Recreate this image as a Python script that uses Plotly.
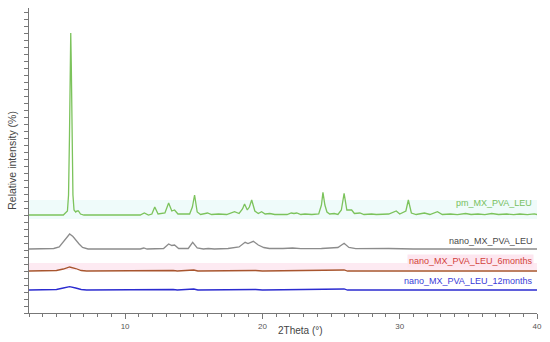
import plotly.graph_objects as go

# 2Theta (deg) / intensity (a.u.) point lists
pm_theta = [3.0, 5.5, 5.8, 5.88, 5.95, 6.0, 6.04, 6.08, 6.13, 6.2, 6.28, 6.4, 6.5, 6.6, 6.75, 7.0,
            11.1, 11.4, 11.7, 11.95, 12.16, 12.4, 12.9, 13.17, 13.4, 13.6, 13.85, 14.7, 14.9, 15.06,
            15.25, 15.5, 16.0, 16.3, 16.8, 17.4, 17.97, 18.3, 18.55, 18.7, 18.9, 19.05, 19.22, 19.45,
            19.7, 19.94, 20.2, 20.54, 20.9, 21.8, 22.1, 22.3, 22.5, 22.8, 23.1, 23.6, 24.1, 24.3,
            24.41, 24.55, 24.7, 24.9, 25.23, 25.5, 25.75, 25.95, 26.15, 26.5, 26.7, 27.1, 27.4,
            27.95, 28.3, 28.8, 29.2, 29.75, 30.0, 30.45, 30.63, 30.85, 31.2, 31.8, 32.2, 32.75,
            33.1, 33.7, 34.2, 34.8, 35.2, 35.7, 36.2, 36.7, 37.2, 37.8, 38.3, 38.75, 39.3, 39.8, 40.0]
pm_int = [0, 0, 4, 20, 80, 150, 182, 150, 80, 20, 5, 3, 4, 4, 1, 0,
          0, 2, 0, 1, 8, 1, 2, 12, 4, 5, 1, 1, 8, 20,
          3, 0.5, 2, 0.5, 1, 0.5, 3.3, 1.5, 6, 11, 5, 8, 15, 4,
          1.5, 3.3, 1, 1.5, 0.5, 0.5, 2, 1.5, 2, 0.5, 1, 0.5, 1, 10,
          22.7, 10, 3, 1, 1.5, 0.5, 5, 21.7, 5, 5, 1.5, 2, 0.5,
          1, 0.5, 1, 1, 4, 1, 4, 15, 2, 0.5, 2, 0.5, 3.3,
          0.5, 1, 0.3, 1.5, 0.5, 1, 0.3, 1.5, 0.5, 1, 0.3, 1, 0.3, 1.2, 0.5]

nano_theta = [3.0, 4.8, 5.2, 5.5, 5.75, 5.96, 6.2, 6.5, 6.65, 6.9, 7.3, 11.1, 11.36, 11.6, 12.8,
              13.17, 13.4, 13.6, 13.9, 14.6, 14.92, 15.25, 15.7, 16.05, 16.5, 17.5, 17.97, 18.3,
              18.74, 18.95, 19.34, 19.7, 20.1, 20.5, 21.5, 22.2, 22.8, 24.3, 25.5, 25.95, 26.3,
              26.8, 29.2, 31.0, 40.0]
nano_int = [0, 0.5, 2, 7, 12, 15, 12.5, 7, 5, 1.5, 0, 0, 1, 0, 0.5,
            5, 3.5, 4, 0.5, 0.5, 6.7, 1, 0, 0.5, 0, 0.5, 1.5, 2,
            6.7, 5.5, 7.7, 4, 1.5, 0.5, 0.5, 1, 0.3, 0.5, 1.5, 5.7, 1.5,
            0.3, 0.5, 0, 0]

m6_theta = [3.0, 5.0, 5.5, 5.96, 6.4, 6.8, 7.2, 12.9, 13.17, 13.5, 13.8, 14.8, 15.0, 15.3,
            18.5, 19.0, 19.5, 20.0, 25.8, 25.95, 26.2, 40.0]
m6_int = [0, 0.5, 2, 4, 2.5, 0.5, 0, 0.3, 1, 0.5, 0, 0.3, 1, 0,
          0.3, 0.7, 0.5, 0, 0.3, 1, 0, 0]

m12_theta = [3.0, 5.0, 5.5, 5.96, 6.4, 6.8, 7.2, 12.9, 13.17, 13.5, 13.8, 14.8, 15.0, 15.3,
             18.5, 19.0, 19.5, 20.0, 25.8, 25.95, 26.2, 40.0]
m12_int = [0, 0.5, 2, 3.3, 2, 0.5, 0, 0.3, 1, 0.5, 0, 0.3, 1, 0,
           0.3, 0.7, 0.5, 0, 0.3, 1, 0, 0]

names = ["pm_MX_PVA_LEU", "nano_MX_PVA_LEU", "nano_MX_PVA_LEU_6months", "nano_MX_PVA_LEU_12months"]

# stacking offsets and styles
offsets = [98, 64, 42, 23]
line_colors = ["#7cc35c", "#8c8c8c", "#a8552e", "#2b2bd0"]
label_colors = ["#77c060", "#4a4a4a", "#d2423a", "#3a3ad8"]
label_y = [110, 72, 52, 32]

series = [(pm_theta, pm_int), (nano_theta, nano_int), (m6_theta, m6_int), (m12_theta, m12_int)]

fig = go.Figure()

# faint highlight bands behind the top and red traces
fig.add_shape(type="rect", xref="paper", x0=0, x1=1, yref="y", y0=94, y1=113,
              fillcolor="#effbfa", line_width=0, layer="below")
fig.add_shape(type="rect", xref="paper", x0=0, x1=1, yref="y", y0=43, y1=50,
              fillcolor="#fdeaf2", line_width=0, layer="below")

for (xs, ys), name, off, col in zip(series, names, offsets, line_colors):
    fig.add_trace(go.Scatter(x=xs, y=[v + off for v in ys], mode="lines", name=name,
                             line=dict(color=col, width=1.3), showlegend=False))

for name, ly, col, i in zip(names, label_y, label_colors, range(4)):
    fig.add_annotation(x=0.995, xref="paper", y=ly, yref="y", text=name, showarrow=False,
                       xanchor="right", yanchor="middle", font=dict(size=9, color=col),
                       bgcolor="#fde6ef" if i == 2 else None, borderpad=1)

fig.add_annotation(x=-0.035, xref="paper", y=0.5, yref="paper", text="Relative intensity (%)",
                   textangle=-90, showarrow=False, font=dict(size=10.5, color="#444"),
                   xanchor="center", yanchor="middle")
fig.add_annotation(x=0.535, xref="paper", y=-0.058, yref="paper", text="2Theta (°)",
                   showarrow=False, font=dict(size=10, color="#444"),
                   xanchor="center", yanchor="middle")

fig.update_xaxes(range=[3, 40], tick0=0, dtick=10, ticks="outside", ticklen=5, tickcolor="#777",
                 showline=True, linecolor="#777", linewidth=1, showgrid=False, zeroline=False,
                 tickfont=dict(size=8, color="#555"),
                 minor=dict(dtick=1, tick0=0, ticks="outside", ticklen=3, tickcolor="#777"))
fig.update_yaxes(range=[0, 305], tick0=0, dtick=7, ticks="outside", ticklen=4, tickcolor="#777",
                 showline=True, linecolor="#777", linewidth=1, showgrid=False, zeroline=False,
                 showticklabels=False)

fig.update_layout(width=550, height=342, margin=dict(l=29, r=8, t=8, b=29),
                  plot_bgcolor="white", paper_bgcolor="white",
                  font=dict(family="Liberation Sans, Arial, sans-serif"))

# drop the default page margin so the figure sits at the window's corner
fig.write_html("out.html", config={"displayModeBar": False},
               post_script="document.body.style.margin='0px';")
